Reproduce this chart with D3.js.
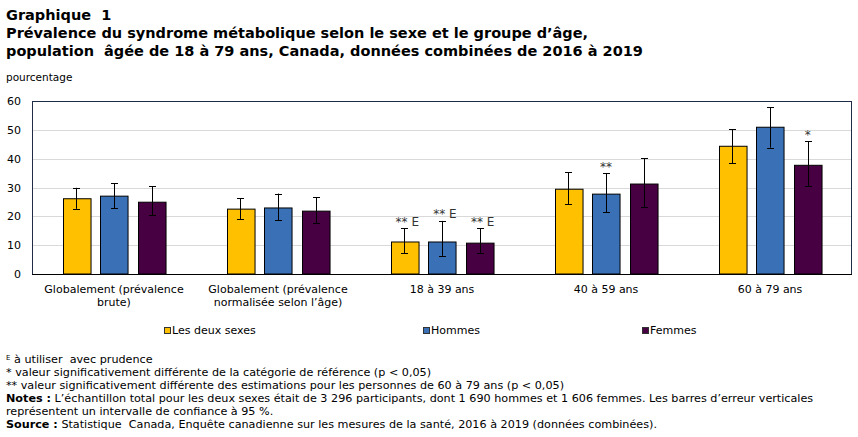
<!DOCTYPE html>
<html>
<head>
<meta charset="utf-8">
<script src="https://cdn.jsdelivr.net/npm/d3@7"></script>
<style>
  body { margin: 0; background: #fff; }
  svg { display: block; }
  text { font-family: "DejaVu Sans", Verdana, sans-serif; fill: #000; white-space: pre; }
</style>
</head>
<body>
<div id="chart"></div>
<script>
// categories (x) and their wrapped labels
const categories = ['brute', 'normalisee', '18-39', '40-59', '60-79'];
const categoryLabels = [
  ['Globalement (prévalence', 'brute)'],
  ['Globalement (prévalence', 'normalisée selon l’âge)'],
  ['18 à 39 ans'],
  ['40 à 59 ans'],
  ['60 à 79 ans'],
];

const seriesNames = ['Les deux sexes', 'Hommes', 'Femmes'];

// prevalence (%) and 95% CI
const deuxSexes = [26.1, 22.5, 11.1, 29.4, 44.3];
const deuxSexesLow = [22.6, 19.0, 7.3, 24.2, 38.4];
const deuxSexesHigh = [29.9, 26.3, 15.9, 35.3, 50.2];

const hommes = [27.0, 22.9, 11.1, 27.7, 50.9];
const hommesLow = [22.9, 18.7, 6.3, 21.5, 43.8];
const hommesHigh = [31.5, 27.9, 18.4, 35.0, 57.8];

const femmes = [24.9, 21.8, 10.7, 31.2, 37.7];
const femmesLow = [20.3, 17.7, 7.3, 23.2, 30.5];
const femmesHigh = [30.5, 26.7, 15.9, 40.2, 46.1];

// significance / quality flags
const deuxSexesFlags = ['', '', '** E', '', ''];
const hommesFlags = ['', '', '** E', '**', ''];
const femmesFlags = ['', '', '** E', '', '*'];

const yTicks = [0, 10, 20, 30, 40, 50, 60];

const colors = ['#FFC000', '#3A70B6', '#470042'];

const seriesData = [
  { name: seriesNames[0], values: deuxSexes, low: deuxSexesLow, high: deuxSexesHigh, flags: deuxSexesFlags },
  { name: seriesNames[1], values: hommes, low: hommesLow, high: hommesHigh, flags: hommesFlags },
  { name: seriesNames[2], values: femmes, low: femmesLow, high: femmesHigh, flags: femmesFlags },
];

const rows = [];
seriesData.forEach((s, si) => {
  categories.forEach((c, ci) => {
    rows.push({ cat: c, series: s.name, si, value: s.values[ci], low: s.low[ci], high: s.high[ci], flag: s.flags[ci] });
  });
});

const width = 858;
const height = 437;
const plot = { left: 32, right: 852, top: 101, bottom: 274 };

const svg = d3.select('#chart').append('svg')
  .attr('width', width)
  .attr('height', height);

// title
const titleLines = [
  'Graphique  1',
  'Prévalence du syndrome métabolique selon le sexe et le groupe d’âge,',
  'population  âgée de 18 à 79 ans, Canada, données combinées de 2016 à 2019',
];
svg.append('g').selectAll('text')
  .data(titleLines)
  .enter().append('text')
    .attr('x', 6)
    .attr('y', (d, i) => 20 + i * 18)
    .style('font-size', '14.5px')
    .style('font-weight', 'bold')
    .text(d => d);

svg.append('text')
  .attr('x', 6)
  .attr('y', 81)
  .style('font-size', '10.5px')
  .text('pourcentage');

const x0 = d3.scaleBand()
  .domain(categories)
  .range([plot.left, plot.right]);

const x1 = d3.scaleBand()
  .domain(seriesNames)
  .range([x0.bandwidth() * 0.186, x0.bandwidth() * 0.814])
  .paddingInner(0.27);

const y = d3.scaleLinear()
  .domain([0, 60])
  .range([plot.bottom, plot.top]);

// gridlines
svg.append('g').selectAll('line')
  .data(yTicks.filter(t => t > 0 && t < 60))
  .enter().append('line')
    .attr('x1', plot.left)
    .attr('x2', plot.right)
    .attr('y1', d => Math.round(y(d)) + 0.5)
    .attr('y2', d => Math.round(y(d)) + 0.5)
    .attr('stroke', '#d9d9d9')
    .attr('stroke-width', 1);

// frame
svg.append('rect')
  .attr('x', plot.left + 0.5)
  .attr('y', plot.top + 0.5)
  .attr('width', plot.right - plot.left - 1)
  .attr('height', plot.bottom - plot.top)
  .attr('fill', 'none')
  .attr('stroke', '#1f2c48')
  .attr('stroke-width', 1);

// y axis labels
const yAxis = svg.append('g')
  .attr('transform', `translate(${plot.left},0)`)
  .call(d3.axisLeft(y).tickValues(yTicks).tickSize(0).tickPadding(11));
yAxis.select('.domain').remove();
yAxis.selectAll('text')
  .style('font-family', '"DejaVu Sans", Verdana, sans-serif')
  .style('font-size', '11px')
  .attr('fill', '#000');

// bars
svg.append('g').selectAll('rect')
  .data(rows)
  .enter().append('rect')
    .attr('x', d => Math.round(x0(d.cat) + x1(d.series)) + 0.5)
    .attr('y', d => y(d.value))
    .attr('width', x1.bandwidth())
    .attr('height', d => y(0) - y(d.value))
    .attr('fill', d => colors[d.si])
    .attr('stroke', '#000')
    .attr('stroke-width', 1);

// baseline
svg.append('line')
  .attr('x1', plot.left)
  .attr('x2', plot.right)
  .attr('y1', y(0) + 0.5)
  .attr('y2', y(0) + 0.5)
  .attr('stroke', '#000')
  .attr('stroke-width', 1.2);

// error bars
const cap = 3.5;
const err = svg.append('g').selectAll('g')
  .data(rows)
  .enter().append('g')
    .attr('transform', d => `translate(${Math.round(x0(d.cat) + x1(d.series) + x1.bandwidth() / 2) + 0.5},0)`);
err.append('line')
  .attr('y1', d => y(d.low))
  .attr('y2', d => y(d.high))
  .attr('stroke', '#000');
err.append('line')
  .attr('x1', -cap).attr('x2', cap)
  .attr('y1', d => Math.round(y(d.high)) + 0.5)
  .attr('y2', d => Math.round(y(d.high)) + 0.5)
  .attr('stroke', '#000');
err.append('line')
  .attr('x1', -cap).attr('x2', cap)
  .attr('y1', d => Math.round(y(d.low)) + 0.5)
  .attr('y2', d => Math.round(y(d.low)) + 0.5)
  .attr('stroke', '#000');

// flags above error bars
svg.append('g').selectAll('text')
  .data(rows.filter(d => d.flag))
  .enter().append('text')
    .attr('x', d => x0(d.cat) + x1(d.series) + x1.bandwidth() / 2 + (d.flag.includes('E') ? 3 : 0))
    .attr('y', d => y(d.high) - 2.5)
    .attr('text-anchor', 'middle')
    .style('font-size', '12px')
    .style('fill', '#333')
    .text(d => d.flag);

// category labels
const catLabels = svg.append('g').selectAll('text')
  .data(categories)
  .enter().append('text')
    .attr('x', d => x0(d) + x0.bandwidth() / 2)
    .attr('y', 293)
    .attr('text-anchor', 'middle')
    .style('font-size', '11px');
catLabels.selectAll('tspan')
  .data((d, i) => categoryLabels[i])
  .enter().append('tspan')
    .attr('x', function() { return d3.select(this.parentNode).attr('x'); })
    .attr('dy', (d, i) => i === 0 ? 0 : 13)
    .text(d => d);

// legend
const legendX = [164, 423, 642];
const legend = svg.append('g').selectAll('g')
  .data(seriesNames)
  .enter().append('g')
    .attr('transform', (d, i) => `translate(${legendX[i]},327)`);
legend.append('rect')
  .attr('x', 0.5).attr('y', 0.5)
  .attr('width', 6).attr('height', 6)
  .attr('fill', (d, i) => colors[i])
  .attr('stroke', '#333');
legend.append('text')
  .attr('x', 8)
  .attr('y', 7)
  .style('font-size', '11px')
  .text(d => d);

// footnotes
const notes = svg.append('g').style('font-size', '11.2px');
const n1 = notes.append('text').attr('x', 6).attr('y', 363);
n1.append('tspan').style('font-size', '7px').attr('dy', -3).text('E');
n1.append('tspan').attr('dy', 3).text(' à utiliser  avec prudence');
notes.append('text').attr('x', 6).attr('y', 376)
  .text('* valeur significativement différente de la catégorie de référence (p < 0,05)');
notes.append('text').attr('x', 6).attr('y', 389)
  .text('** valeur significativement différente des estimations pour les personnes de 60 à 79 ans (p < 0,05)');
const n4 = notes.append('text').attr('x', 6).attr('y', 402);
n4.append('tspan').style('font-weight', 'bold').text('Notes :');
n4.append('tspan').text(' L’échantillon total pour les deux sexes était de 3 296 participants, dont 1 690 hommes et 1 606 femmes. Les barres d’erreur verticales');
notes.append('text').attr('x', 6).attr('y', 415)
  .text('représentent un intervalle de confiance à 95 %.');
const n6 = notes.append('text').attr('x', 6).attr('y', 428);
n6.append('tspan').style('font-weight', 'bold').text('Source :');
n6.append('tspan').text(' Statistique  Canada, Enquête canadienne sur les mesures de la santé, 2016 à 2019 (données combinées).');
</script>
</body>
</html>
